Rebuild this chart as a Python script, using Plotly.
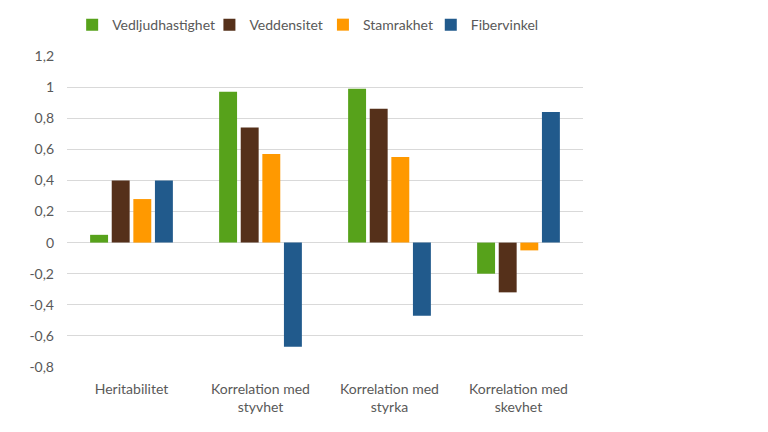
import plotly.graph_objects as go

categories = ["Heritabilitet", "Korrelation med<br>styvhet", "Korrelation med<br>styrka", "Korrelation med<br>skevhet"]
series_names = ["Vedljudhastighet", "Veddensitet", "Stamrakhet", "Fibervinkel"]
vedljud = [0.05, 0.97, 0.99, -0.20]
veddens = [0.40, 0.74, 0.86, -0.32]
stamrak = [0.28, 0.57, 0.55, -0.05]
fiber = [0.40, -0.67, -0.47, 0.84]
colors = ["#57A21B", "#55301A", "#FF9900", "#215A8C"]
tick_vals = [-0.8, -0.6, -0.4, -0.2, 0, 0.2, 0.4, 0.6, 0.8, 1, 1.2]
tick_text = ["-0,8", "-0,6", "-0,4", "-0,2", "0", "0,2", "0,4", "0,6", "0,8", "1", "1,2"]

font_fam = "Lato, 'Open Sans', sans-serif"
legend_ids = ["legend", "legend2", "legend3", "legend4"]
legend_x = [0.01, 0.276, 0.496, 0.705]

fig = go.Figure()
for name, vals, col, lid in zip(series_names, [vedljud, veddens, stamrak, fiber], colors, legend_ids):
    fig.add_trace(go.Bar(x=categories, y=vals, name=name, legend=lid,
                         marker=dict(color=col, line=dict(width=0))))

legend_common = dict(orientation="h", xanchor="left", yref="container", y=0.942, yanchor="middle",
                     font=dict(family=font_fam, size=14, color="#595959"), itemwidth=30,
                     bgcolor="rgba(0,0,0,0)", borderwidth=0)
layout_legends = {}
for lid, lx in zip(legend_ids, legend_x):
    layout_legends[lid] = dict(legend_common, x=lx)

fig.update_layout(
    width=768, height=432,
    margin=dict(l=67, r=185, t=56, b=65, autoexpand=False),
    paper_bgcolor="white", plot_bgcolor="white",
    barmode="group", bargap=0.33, bargroupgap=0.17,
    font=dict(family=font_fam, size=14, color="#595959"),
    showlegend=True,
    **layout_legends,
)
fig.update_yaxes(range=[-0.8, 1.2], tickvals=tick_vals, ticktext=tick_text,
                 showgrid=True, gridcolor="#D9D9D9", gridwidth=1, zeroline=False,
                 showline=False, ticks="", ticklabelstandoff=12,
                 tickfont=dict(family=font_fam, size=14, color="#595959"))
fig.update_xaxes(showgrid=False, zeroline=False, showline=False, ticks="", ticklabelstandoff=12,
                 tickfont=dict(family=font_fam, size=14, color="#595959"))
fig.write_html("out.html", config={"displayModeBar": False},
               post_script="document.body.style.margin='0';")
